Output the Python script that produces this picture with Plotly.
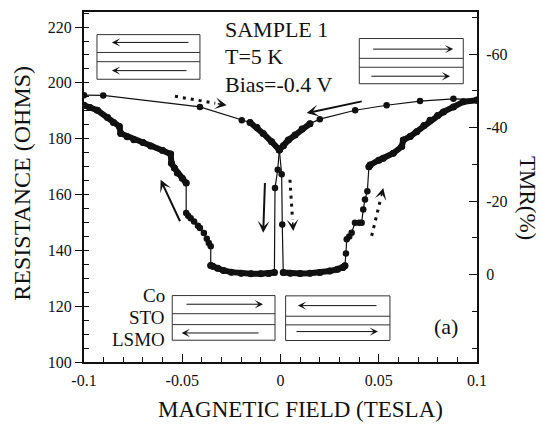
import plotly.graph_objects as go

# ---------------- data ----------------
# Sweep from +0.1 T down to -0.1 T
down_sparse_field = [0.100, 0.088, 0.071, 0.054, 0.038, 0.020]
down_sparse_res = [194.0, 194.3, 193.5, 192.0, 190.2, 187.0]
down_v_field = [0.020, 0.015, 0.011, 0.0074, 0.004, 0.0015, -0.0006]
down_v_res = [187.0, 185.4, 183.5, 181.3, 179.5, 177.5, 176.0]
down_switch_field = [-0.0006, -0.0014, -0.0028, -0.0031]
down_switch_res = [176.0, 168.9, 162.3, 132.1]
down_flat_field = [-0.0031, -0.006, -0.010, -0.015, -0.020, -0.025, -0.029, -0.032, -0.0345, -0.0355]
down_flat_res = [132.1, 131.7, 131.6, 131.6, 131.8, 132.2, 132.8, 133.6, 134.3, 134.6]
down_step_field = [-0.0355, -0.0365, -0.0375, -0.039, -0.041, -0.042, -0.044, -0.0457, -0.047, -0.048]
down_step_res = [141.5, 142.6, 144.2, 146.2, 148.0, 148.8, 150.3, 151.5, 152.4, 153.4]
down_rise_field = [-0.0480, -0.050, -0.0525, -0.054, -0.0555, -0.0559, -0.060, -0.066, -0.070,
                   -0.0746, -0.078, -0.0813, -0.082, -0.085, -0.088, -0.0932, -0.097, -0.100]
down_rise_res = [164.1, 165.8, 167.7, 169.5, 171.2, 174.5, 175.8, 177.4, 178.6,
                 179.6, 180.7, 181.9, 184.4, 185.8, 187.6, 190.2, 191.2, 192.0]

# Sweep from -0.1 T up to +0.1 T
up_sparse_field = [-0.100, -0.0902, -0.041, -0.0197, -0.0155]
up_sparse_res = [195.6, 195.5, 191.4, 186.6, 185.8]
up_v_field = [-0.0155, -0.012, -0.0088, -0.0045, -0.0006]
up_v_res = [185.8, 184.0, 181.9, 178.9, 176.0]
up_switch_field = [-0.0006, 0.0006, 0.0009, 0.0014]
up_switch_res = [176.0, 167.3, 149.3, 132.1]
up_flat_field = [0.0014, 0.005, 0.010, 0.015, 0.020, 0.025, 0.029, 0.0318, 0.0328]
up_flat_res = [132.1, 131.8, 131.7, 131.8, 132.1, 132.6, 133.2, 133.9, 134.5]
up_step_field = [0.0333, 0.0337, 0.0350, 0.0362, 0.0379, 0.0400, 0.0413, 0.0421, 0.0430, 0.0442]
up_step_res = [138.9, 144.0, 145.0, 146.3, 149.9, 149.9, 149.9, 154.6, 158.2, 161.2]
up_rise_field = [0.0450, 0.0456, 0.050, 0.0523, 0.0574, 0.0617, 0.0625, 0.066, 0.0693,
                 0.073, 0.0761, 0.080, 0.0829, 0.088, 0.093, 0.100]
up_rise_res = [170.0, 170.6, 172.3, 173.0, 174.8, 177.2, 179.5, 180.8, 182.5,
               184.7, 186.6, 188.3, 189.6, 191.4, 193.2, 193.8]

# Axis ticks
x_tickvals = [-0.1, -0.05, 0, 0.05, 0.1]
x_ticktext = ["-0.1", "-0.05", "0", "0.05", "0.1"]
r_tickvals = [100, 120, 140, 160, 180, 200, 220]
r_ticktext = ["100", "120", "140", "160", "180", "200", "220"]
tmr_tickvals = [-60, -40, -20, 0]
tmr_ticktext = ["-60", "-40", "-20", "0"]

# Texts
info_lines = ["SAMPLE 1", "T=5 K", "Bias=-0.4 V"]
layer_labels = ["Co", "STO", "LSMO"]
panel_label = "(a)"

FONT = "Liberation Serif, Times New Roman, serif"
BLACK = "#111111"

fig = go.Figure()


def path(*segs):
    xs, ys = [], []
    for fx, fy in segs:
        for a, b in zip(fx, fy):
            if xs and xs[-1] == a and ys[-1] == b:
                continue
            xs.append(a)
            ys.append(b)
    return xs, ys


# Thin connecting lines with markers (whole sweep path)
for segs in [
    [(down_sparse_field, down_sparse_res), (down_v_field, down_v_res),
     (down_switch_field, down_switch_res), (down_flat_field, down_flat_res),
     (down_step_field, down_step_res), (down_rise_field, down_rise_res)],
    [(up_sparse_field, up_sparse_res), (up_v_field, up_v_res),
     (up_switch_field, up_switch_res), (up_flat_field, up_flat_res),
     (up_step_field, up_step_res), (up_rise_field, up_rise_res)],
]:
    xs, ys = path(*segs)
    fig.add_trace(go.Scatter(x=xs, y=ys, mode="lines+markers",
                             line=dict(color=BLACK, width=1.2),
                             marker=dict(color=BLACK, size=6.5),
                             showlegend=False, hoverinfo="skip"))

# Dense (thick) portions of the sweeps
for fx, fy in [(down_v_field[1:], down_v_res[1:]), (down_flat_field, down_flat_res),
               (down_rise_field, down_rise_res), (up_v_field, up_v_res),
               (up_flat_field, up_flat_res), (up_rise_field, up_rise_res)]:
    fig.add_trace(go.Scatter(x=fx, y=fy, mode="lines+markers",
                             line=dict(color=BLACK, width=6),
                             marker=dict(color=BLACK, size=7),
                             showlegend=False, hoverinfo="skip"))

# trace to activate secondary axis
fig.add_trace(go.Scatter(x=[None], y=[None], yaxis="y2", showlegend=False, hoverinfo="skip"))

# ---------------- schematic boxes ----------------
boxes = [
    # x0, x1, y_bottom, y_top, inner1, inner2
    (-0.0934, -0.041, 201.3, 217.3, 207.6, 210.9),
    (0.0401, 0.0930, 199.7, 215.9, 205.6, 208.8),
    (-0.0551, -0.0028, 107.8, 123.8, 113.4, 117.3),
    (0.0026, 0.0557, 107.7, 123.7, 113.3, 116.4),
]
shapes = []
for x0, x1, yb, yt, i1, i2 in boxes:
    shapes.append(dict(type="rect", xref="x", yref="y", x0=x0, x1=x1, y0=yb, y1=yt,
                       line=dict(color="#333333", width=1)))
    for yy in (i1, i2):
        shapes.append(dict(type="line", xref="x", yref="y", x0=x0, x1=x1, y0=yy, y1=yy,
                           line=dict(color="#333333", width=1)))

annotations = []
# arrows inside boxes: (tail_x, head_x, y)
box_arrows = [
    (-0.0461, -0.0858, 214.5), (-0.0471, -0.0858, 204.4),
    (0.0464, 0.0879, 212.1), (0.0455, 0.0863, 202.4),
    (-0.0486, -0.0089, 120.7), (-0.0104, -0.0503, 110.4),
    (0.0496, 0.0089, 120.2), (0.0074, 0.0496, 110.9),
]
for tx, hx, yy in box_arrows:
    annotations.append(dict(x=hx, y=yy, ax=tx, ay=yy, xref="x", yref="y", axref="x", ayref="y",
                            text="", showarrow=True, arrowhead=3, arrowsize=1.4,
                            arrowwidth=1, arrowcolor=BLACK, standoff=0))

# solid sweep-direction arrows: (tail_x, tail_y, head_x, head_y)
solid_arrows = [
    (0.0421, 193.5, 0.0133, 189.2),
    (-0.0508, 149.9, -0.0610, 165.3),
    (-0.0079, 164.7, -0.0088, 146.3),
]
for tx, ty, hx, hy in solid_arrows:
    annotations.append(dict(x=hx, y=hy, ax=tx, ay=ty, xref="x", yref="y", axref="x", ayref="y",
                            text="", showarrow=True, arrowhead=3, arrowsize=1.0,
                            arrowwidth=2, arrowcolor=BLACK, standoff=0))

# dotted sweep-direction arrows
dotted_arrows = [
    (-0.0537, 195.2, -0.0274, 192.0),
    (0.0048, 165.3, 0.0065, 146.9),
    (0.0464, 145.2, 0.0523, 162.3),
]
for tx, ty, hx, hy in dotted_arrows:
    mx = hx - 0.22 * (hx - tx)
    my = hy - 0.22 * (hy - ty)
    shapes.append(dict(type="line", xref="x", yref="y", x0=tx, y0=ty, x1=mx, y1=my,
                       line=dict(color=BLACK, width=3, dash="3px,5px")))
    annotations.append(dict(x=hx, y=hy, ax=hx - 0.2 * (hx - tx), ay=hy - 0.2 * (hy - ty),
                            xref="x", yref="y", axref="x", ayref="y",
                            text="", showarrow=True, arrowhead=3, arrowsize=1.3,
                            arrowwidth=1.5, arrowcolor=BLACK, standoff=0))

# texts
for txt, yy in zip(info_lines, [0.951, 0.872, 0.792]):
    annotations.append(dict(text=txt, x=0.354, y=yy, xref="paper", yref="paper",
                            xanchor="left", yanchor="middle", showarrow=False,
                            font=dict(family=FONT, size=22, color=BLACK)))
for txt, yy in zip(layer_labels, [0.19, 0.127, 0.064]):
    annotations.append(dict(text=txt, x=0.212, y=yy, xref="paper", yref="paper",
                            xanchor="right", yanchor="middle", showarrow=False,
                            font=dict(family=FONT, size=19, color=BLACK)))
annotations.append(dict(text=panel_label, x=0.921, y=0.102, xref="paper", yref="paper",
                        xanchor="center", yanchor="middle", showarrow=False,
                        font=dict(family=FONT, size=22, color=BLACK)))
# axis titles
annotations.append(dict(text="MAGNETIC FIELD (TESLA)", x=0.55, y=-0.136, xref="paper", yref="paper",
                        xanchor="center", yanchor="middle", showarrow=False,
                        font=dict(family=FONT, size=23, color=BLACK)))
annotations.append(dict(text="RESISTANCE (OHMS)", x=-0.158, y=0.512, xref="paper", yref="paper",
                        xanchor="center", yanchor="middle", showarrow=False, textangle=-90,
                        font=dict(family=FONT, size=24, color=BLACK)))
annotations.append(dict(text="TMR(%)", x=1.128, y=0.468, xref="paper", yref="paper",
                        xanchor="center", yanchor="middle", showarrow=False, textangle=90,
                        font=dict(family=FONT, size=23, color=BLACK)))

tickfont = dict(family=FONT, size=16, color=BLACK)

fig.update_layout(
    width=541, height=424,
    margin=dict(l=84, r=64, t=10, b=62),
    paper_bgcolor="white", plot_bgcolor="white",
    showlegend=False,
    shapes=shapes, annotations=annotations,
    xaxis=dict(range=[-0.1, 0.1], tickvals=x_tickvals, ticktext=x_ticktext,
               showline=True, linecolor=BLACK, linewidth=2, mirror=True,
               ticks="inside", ticklen=8, tickwidth=1.2, tickcolor=BLACK,
               minor=dict(dtick=0.01, ticks="inside", ticklen=5, tickcolor=BLACK, tickwidth=1),
               showgrid=False, zeroline=False, tickfont=tickfont, ticklabelstandoff=3),
    yaxis=dict(range=[100, 225.4], tickvals=r_tickvals, ticktext=r_ticktext,
               showline=True, linecolor=BLACK, linewidth=2,
               ticks="outside", ticklen=7, tickwidth=1.2, tickcolor=BLACK,
               minor=dict(dtick=5, ticks="inside", ticklen=5, tickcolor=BLACK, tickwidth=1),
               showgrid=False, zeroline=False, tickfont=tickfont),
    yaxis2=dict(range=[23.8, -71.5], overlaying="y", side="right",
                tickvals=tmr_tickvals, ticktext=tmr_ticktext,
                showline=True, linecolor=BLACK, linewidth=2,
                ticks="inside", ticklen=8, tickwidth=1.2, tickcolor=BLACK,
                minor=dict(dtick=10, ticks="inside", ticklen=5, tickcolor=BLACK, tickwidth=1),
                showgrid=False, zeroline=False, tickfont=tickfont, ticklabelstandoff=4),
)

fig.write_html("out.html")
